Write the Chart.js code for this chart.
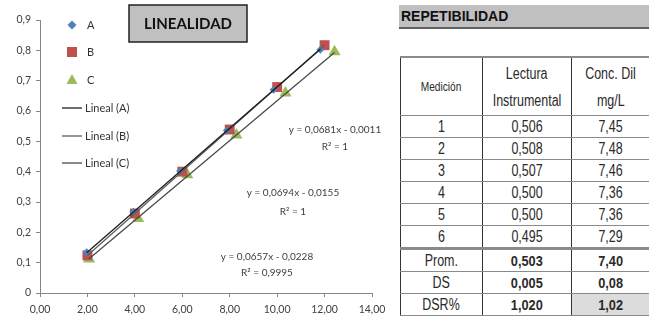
<!DOCTYPE html>
<html>
<head>
<meta charset="utf-8">
<script src="https://cdn.jsdelivr.net/npm/chart.js@4/dist/chart.umd.min.js"></script>
<style>
  body { margin: 0; background: #fff; width: 649px; height: 323px; overflow: hidden; position: relative; }
  #wrap { position: absolute; left: 0; top: 0; width: 395px; height: 323px; }
  #rep { position: absolute; left: 399px; top: 5px; width: 248px; height: 22px; padding-left: 2px;
         background: #c0c0c0; border-bottom: 2px solid #5f5f5f;
         font: bold 14px 'Liberation Sans', Arial, sans-serif; line-height: 23px; color: #111; }
  #tbl { position: absolute; left: 400px; top: 56px; width: 249px; border-collapse: collapse; table-layout: fixed;
         font-family: 'Liberation Sans', Arial, sans-serif; font-size: 16px; color: #2a2a2a; }
  #tbl td { border-top: 1px solid #8a8a8a; border-bottom: 1px solid #8a8a8a; border-left: 1px solid #333;
            text-align: center; padding: 0; height: 21px; line-height: 21px; white-space: nowrap; }
  #tbl td span { display: inline-block; transform: scaleX(0.78); }
  #tbl tr:first-child td { border-top: 2px solid #8a8a8a; height: 57px; line-height: 27px; }
  #tbl tr.first-stat td { border-top: 3px solid #8a8a8a; }
  #tbl td.b { font-weight: bold; font-size: 15px; }
  #tbl td.b span { transform: scaleX(0.85); }
  #tbl td.shade { background: #dcdcdc; }
  #tbl td.small { font-size: 13px; }
</style>
</head>
<body>
<div id="wrap"><canvas id="c" width="395" height="323"></canvas></div>
<div id="rep">REPETIBILIDAD</div>
<table id="tbl">
  <colgroup><col style="width:82px"><col style="width:89px"><col style="width:78px"></colgroup>
  <tbody id="tb"></tbody>
</table>
<script>
// linealidad
const xA = [1.97, 3.94, 5.91, 7.88, 9.85, 11.82]
const yA = [0.134, 0.268, 0.402, 0.536, 0.670, 0.802]
const xB = [2, 4, 6, 8, 10, 12]
const yB = [0.124, 0.262, 0.400, 0.539, 0.679, 0.817]
const xC = [2.07, 4.14, 6.21, 8.28, 10.35, 12.42]
const yC = [0.112, 0.246, 0.390, 0.521, 0.659, 0.795]

const pendientes = [0.0681, 0.0694, 0.0657]
const intercepts = [-0.0011, -0.0155, -0.0228]
const ecuaciones = ['y = 0,0681x - 0,0011', 'y = 0,0694x - 0,0155', 'y = 0,0657x - 0,0228']
const r2 = ['R² = 1', 'R² = 1', 'R² = 0,9995']

const xTickLabels = ['0,00', '2,00', '4,00', '6,00', '8,00', '10,00', '12,00', '14,00']
const yTickLabels = ['0', '0,1', '0,2', '0,3', '0,4', '0,5', '0,6', '0,7', '0,8', '0,9']

// repetibilidad
const medicion = ['1', '2', '3', '4', '5', '6']
const lectura = ['0,506', '0,508', '0,507', '0,500', '0,500', '0,495']
const concDil = ['7,45', '7,48', '7,46', '7,36', '7,36', '7,29']
const estadisticos = ['Prom.', 'DS', 'DSR%']
const lecturaEst = ['0,503', '0,005', '1,020']
const concEst = ['7,40', '0,08', '1,02']

const colores = ['#4f81bd', '#c0504d', '#9bbb59']
const lineColores = ['#1e1e1e', '#5e5e5e', '#4a4a4a']
const estilos = ['rectRot', 'rect', 'triangle']
const radios = [4, 7, 7]

const xs = [xA, xB, xC]
const ys = [yA, yB, yC]
const nombres = ['A', 'B', 'C']

const puntos = xs.map((xv, i) => ({
  label: nombres[i],
  type: 'scatter',
  data: xv.map((x, j) => ({ x: x, y: ys[i][j] })),
  pointStyle: estilos[i],
  pointRadius: radios[i],
  pointHoverRadius: radios[i],
  backgroundColor: colores[i],
  borderColor: colores[i],
  borderWidth: 0,
  order: 1
}))

const tendencias = xs.map((xv, i) => {
  const x0 = Math.min(...xv), x1 = Math.max(...xv)
  return {
    label: 'Lineal (' + nombres[i] + ')',
    type: 'line',
    data: [{ x: x0, y: pendientes[i] * x0 + intercepts[i] }, { x: x1, y: pendientes[i] * x1 + intercepts[i] }],
    borderColor: lineColores[i],
    borderWidth: 1.3,
    pointRadius: 0,
    fill: false,
    order: 0
  }
})

function marcador(ctx, estilo, x, y, color) {
  ctx.fillStyle = color
  ctx.beginPath()
  if (estilo === 'rectRot') {
    ctx.moveTo(x, y - 4.5); ctx.lineTo(x + 4.5, y); ctx.lineTo(x, y + 4.5); ctx.lineTo(x - 4.5, y)
  } else if (estilo === 'rect') {
    ctx.rect(x - 5, y - 5, 10, 10)
  } else {
    ctx.moveTo(x, y - 6); ctx.lineTo(x + 5.5, y + 4); ctx.lineTo(x - 5.5, y + 4)
  }
  ctx.closePath()
  ctx.fill()
}

const extras = {
  id: 'extras',
  afterDraw(chart) {
    const ctx = chart.ctx
    ctx.save()
    // titulo
    ctx.fillStyle = '#c0c0c0'
    ctx.fillRect(129, 5, 118, 37)
    ctx.strokeStyle = '#222'
    ctx.lineWidth = 1.5
    ctx.strokeRect(129, 5, 118, 37)
    ctx.fillStyle = '#111'
    ctx.font = 'bold 15px Lato'
    ctx.textAlign = 'center'
    ctx.textBaseline = 'middle'
    ctx.fillText('LINEALIDAD', 188, 24)

    // leyenda
    ctx.font = '11px Lato'
    ctx.textAlign = 'left'
    const ly = [25, 52, 80]
    nombres.forEach((n, i) => {
      marcador(ctx, estilos[i], 72, ly[i], colores[i])
      ctx.fillStyle = '#333'
      ctx.fillText(n, 87, ly[i])
    })
    const lly = [108, 136, 163]
    tendencias.forEach((t, i) => {
      ctx.strokeStyle = lineColores[i]
      ctx.lineWidth = 1.3
      ctx.beginPath()
      ctx.moveTo(62, lly[i]); ctx.lineTo(82, lly[i]); ctx.stroke()
      ctx.fillStyle = '#333'
      ctx.fillText(t.label, 85, lly[i])
    })

    // ecuaciones
    ctx.font = '10px Lato'
    ctx.textAlign = 'center'
    ctx.fillStyle = '#404040'
    const pos = [[335, 130, 147], [293, 193, 212], [267, 257, 273]]
    pos.forEach((p, i) => {
      ctx.fillText(ecuaciones[i], p[0], p[1])
      ctx.fillText(r2[i], p[0], p[2])
    })
    ctx.restore()
  }
}

new Chart(document.getElementById('c'), {
  type: 'scatter',
  data: { datasets: puntos.concat(tendencias) },
  options: {
    responsive: false,
    animation: false,
    layout: { padding: { top: 20, right: 23, left: 0, bottom: 0 } },
    plugins: { legend: { display: false }, tooltip: { enabled: false } },
    scales: {
      x: {
        type: 'linear', min: 0, max: 14,
        ticks: { stepSize: 2, padding: 6, color: '#404040', font: { family: 'Lato', size: 10.5 },
                 callback: (v, i) => xTickLabels[i] },
        grid: { drawOnChartArea: false, drawTicks: true, tickLength: 4, color: '#868686' },
        border: { color: '#868686' },
        afterFit: s => { s.height = 30 }
      },
      y: {
        min: 0, max: 0.9,
        ticks: { stepSize: 0.1, padding: 5, color: '#404040', font: { family: 'Lato', size: 10.5 },
                 callback: (v, i) => yTickLabels[i] },
        grid: { drawOnChartArea: false, drawTicks: true, tickLength: 4, color: '#868686' },
        border: { color: '#868686' },
        afterFit: s => { s.width = 40 }
      }
    }
  },
  plugins: [extras]
})

// tabla
const tb = document.getElementById('tb')
const sp = t => '<span>' + t + '</span>'
let html = '<tr><td class="small">' + sp('Medición') + '</td><td>' + sp('Lectura') + '<br>' + sp('Instrumental') +
  '</td><td>' + sp('Conc. Dil') + '<br>' + sp('mg/L') + '</td></tr>'
medicion.forEach((m, i) => {
  html += '<tr><td>' + sp(m) + '</td><td>' + sp(lectura[i]) + '</td><td>' + sp(concDil[i]) + '</td></tr>'
})
estadisticos.forEach((e, i) => {
  html += '<tr' + (i === 0 ? ' class="first-stat"' : '') + '><td>' + sp(e) + '</td><td class="b">' + sp(lecturaEst[i]) +
    '</td><td class="b' + (i === 2 ? ' shade' : '') + '">' + sp(concEst[i]) + '</td></tr>'
})
tb.innerHTML = html
</script>
</body>
</html>
